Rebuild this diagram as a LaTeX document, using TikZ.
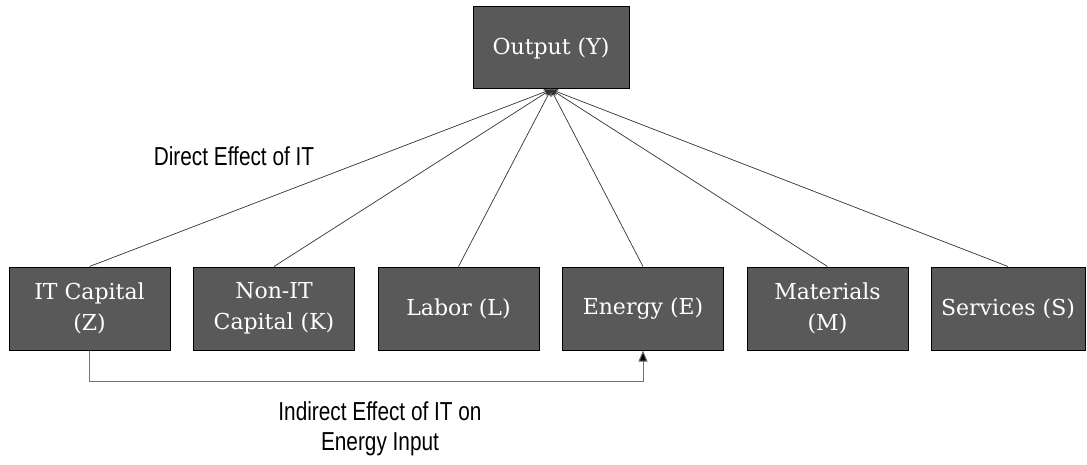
\documentclass[tikz,border=0pt]{standalone}
\usepackage{fontspec}
\setmainfont{DejaVu Serif}
\newfontfamily\labelfont[FakeStretch=0.8]{Liberation Sans}
\usetikzlibrary{positioning,arrows.meta}
\definecolor{boxgray}{HTML}{595959}
\tikzstyle{squared} = [rectangle, fill=boxgray, draw=black, line width=1pt, minimum width=161pt, minimum height=83pt, text=white, align=center, font=\fontsize{22}{31}\selectfont]
\tikzstyle{connect} = [line width=0.7pt, draw=black!80, -{Stealth[length=7pt,width=6pt]}]
\tikzstyle{connect2} = [line width=1pt, draw=black!55, -{Triangle[length=11pt,width=9pt,fill=black]}]
\tikzstyle{note} = [align=center, font=\labelfont\fontsize{26}{30}\selectfont]

\begin{document}
\begin{tikzpicture}[x=1pt, y=-1pt, node distance=184.5pt]
			\useasboundingbox (0,0) rectangle (1087,465);
			\node (output) [squared, minimum width=156pt, minimum height=82pt] at (551,48) {Output (Y)};
			\node (itcap) [squared] at (89.5,308.5) {IT Capital\\(Z)};
			\node (nonit) [squared, right of=itcap] {Non-IT\\Capital (K)};
			\node (labor) [squared, right of=nonit] {Labor (L)};
			\node (energy) [squared, right of=labor] {Energy (E)};
			\node (mat) [squared, right of=energy] {Materials\\(M)};
			\node (serv) [squared, right of=mat, xshift=-4pt, minimum width=154pt] {Services (S)};
			
			\node (direct) [note] at (234,156) {Direct Effect of IT};
			\node (indirect) [note] at (380,429) {Indirect Effect of IT on\\Energy Input};
			
			\draw [connect] (itcap.north) -- (output.south);
			\draw [connect] (nonit.north) -- (output.south);
			\draw [connect] (labor.north) -- (output.south);
			\draw [connect] (energy.north) -- (output.south);
			\draw [connect] (mat.north) -- (output.south);
			\draw [connect] (serv.north) -- (output.south);
			\draw [connect2] (itcap.south) -- ++(0,31) -| (energy.south);
			\end{tikzpicture}
\end{document}
